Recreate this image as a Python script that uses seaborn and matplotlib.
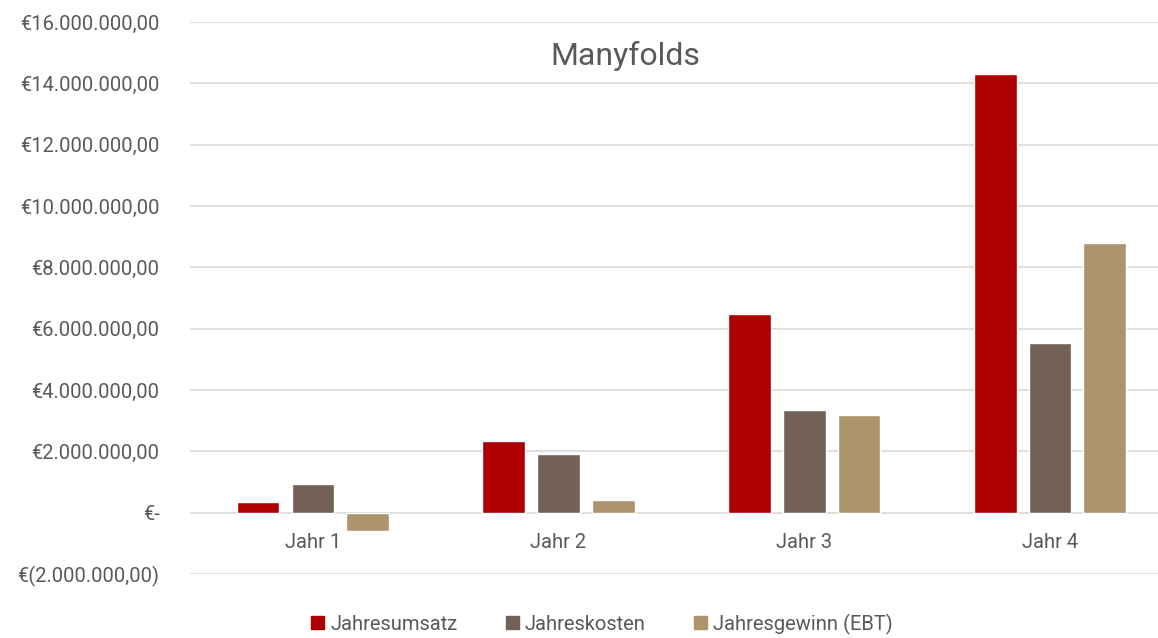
import pandas as pd
import numpy as np
import matplotlib
matplotlib.use("Agg")
import matplotlib.pyplot as plt
import seaborn as sns
from matplotlib.ticker import FuncFormatter

years = ["Jahr 1", "Jahr 2", "Jahr 3", "Jahr 4"]
series = ["Jahresumsatz", "Jahreskosten", "Jahresgewinn (EBT)"]
umsatz = [360000, 2340000, 6480000, 14320000]
kosten = [940000, 1910000, 3350000, 5530000]
gewinn = [-590000, 420000, 3180000, 8800000]
colors = ["#AE0000", "#736056", "#AD946C"]

TEXT = "#595959"
GRID = "#D9D9D9"

df = pd.DataFrame({
    "Jahr": years * 3,
    "Serie": [s for s in series for _ in years],
    "Wert": umsatz + kosten + gewinn,
})

sns.set_theme(style="white")
plt.rcParams["font.family"] = ["Roboto", "DejaVu Sans"]

fig = plt.figure(figsize=(11.58, 6.38), dpi=100)
ax = fig.add_axes([190 / 1158, 1 - 574 / 638, 1 - 190 / 1158, (574 - 22) / 638])

sns.barplot(data=df, x="Jahr", y="Wert", hue="Serie", palette=colors,
            width=0.668, gap=0.22, ax=ax, legend=False, saturation=1)

ax.set_ylim(-2000000, 16000000)
ax.set_xlim(-0.5, 3.44)
ax.set_yticks(np.arange(-2000000, 16000001, 2000000))


def euro(v, pos):
    if abs(v) < 1:
        return "€-"
    s = f"{abs(v):,.2f}".replace(",", "X").replace(".", ",").replace("X", ".")
    if v < 0:
        return f"€({s})"
    return f"€{s}"


ax.yaxis.set_major_formatter(FuncFormatter(euro))
ax.grid(axis="y", color=GRID, linewidth=1.2)
ax.set_axisbelow(True)
for sp in ax.spines.values():
    sp.set_visible(False)
# category labels sit just under the zero line
ax.spines["bottom"].set_position(("data", 0))
ax.tick_params(axis="y", length=0, pad=22, labelsize=14.5, labelcolor=TEXT)
ax.tick_params(axis="x", length=0, pad=15, labelsize=14.5, labelcolor=TEXT)
ax.set_xlabel("")
ax.set_ylabel("")

fig.text(625 / 1158, 1 - 56 / 638, "Manyfolds", ha="center", va="center",
         fontsize=23, color=TEXT)

handles = [plt.Rectangle((0, 0), 1, 1, color=c) for c in colors]
fig.legend(handles, series, loc="center", bbox_to_anchor=(602 / 1158, 1 - 624 / 638),
           ncol=3, frameon=False, fontsize=14.5, labelcolor=TEXT,
           handlelength=0.65, handleheight=0.65, handletextpad=0.3, columnspacing=2.4)

fig.savefig("out.png", dpi=100)
